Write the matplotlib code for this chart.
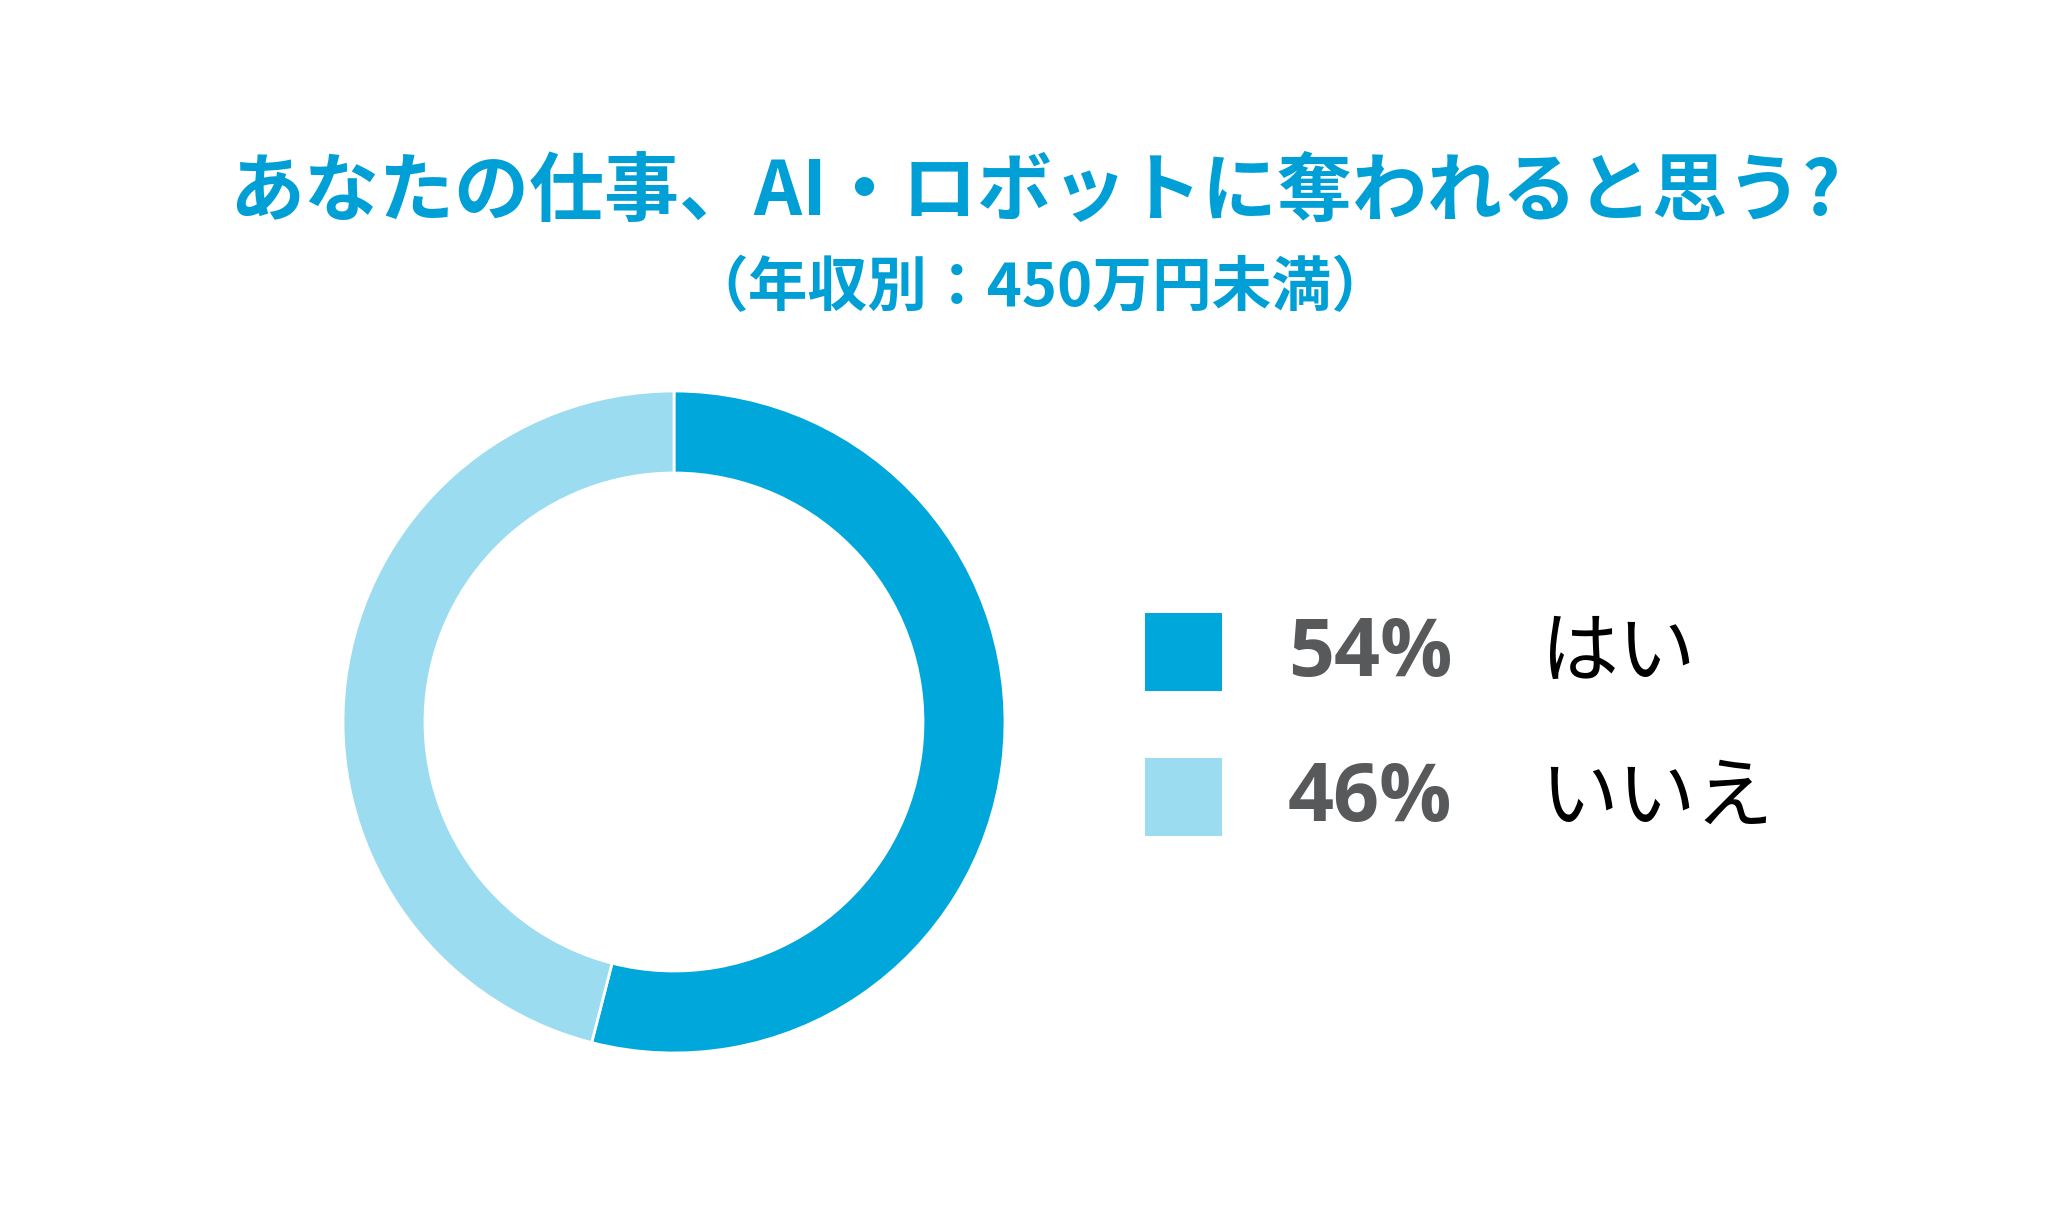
import matplotlib
matplotlib.use("Agg")
import matplotlib.pyplot as plt
from matplotlib.patches import Rectangle

plt.rcParams['font.family'] = ['Noto Sans CJK JP', 'DejaVu Sans']

labels = ["はい", "いいえ"]
values = [54, 46]
colors = ["#00a7da", "#9cdcf1"]
title = "あなたの仕事、AI・ロボットに奪われると思う?"
subtitle = "（年収別：450万円未満）"

W, H = 2067, 1226
fig = plt.figure(figsize=(W / 100, H / 100), dpi=100)
fig.patch.set_facecolor("white")

# donut
cx, cy, r = 674, 722, 331
pad = 1.05
ax = fig.add_axes([(cx - r * pad) / W, (H - cy - r * pad) / H,
                   2 * r * pad / W, 2 * r * pad / H])
ax.pie(values, colors=colors, startangle=90, counterclock=False,
       wedgeprops=dict(width=82 / r, edgecolor="white", linewidth=2))
ax.set_xlim(-pad, pad)
ax.set_ylim(-pad, pad)
ax.set_aspect("equal")
ax.axis("off")

# titles
fig.text(1035 / W, 1 - 193 / H, title, ha="center", va="center",
         fontsize=54, fontweight="bold", color="#00a0d6")
fig.text(1040 / W, 1 - 289 / H, subtitle, ha="center", va="center",
         fontsize=43, fontweight="bold", color="#00a0d6")

# legend
rows_y = [652, 797]
for yc, lab, val, col in zip(rows_y, labels, values, colors):
    fig.patches.append(Rectangle((1145 / W, 1 - (yc + 39) / H), 77 / W, 78 / H,
                                 transform=fig.transFigure, facecolor=col,
                                 edgecolor="none"))
    fig.text(1288 / W, 1 - (yc + 3) / H, f"{val}%", ha="left", va="center",
             fontsize=58, fontweight="bold", color="#58595b",
             family=["Open Sans", "DejaVu Sans"])
    fig.text(1540 / W, 1 - (yc + 2) / H, lab, ha="left", va="center",
             fontsize=56, color="black")

fig.savefig("out.png", dpi=100, facecolor="white")
